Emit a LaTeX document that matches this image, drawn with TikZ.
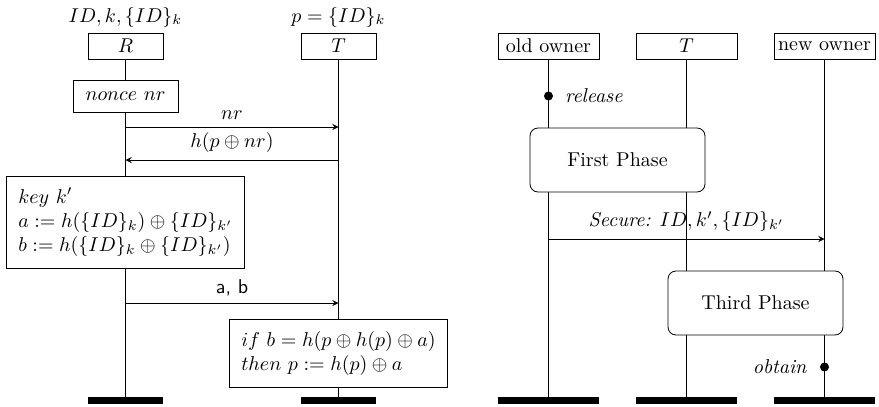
\documentclass[tikz,border=0pt]{standalone}
\usepackage{amsmath}
\usepackage{amssymb}
\usepackage{tikz}
\begin{document}
\begin{tikzpicture}[x=0.5pt,y=-0.5pt]
\tikzstyle{actor}=[draw=black, inner sep=1pt, minimum height=13pt]
\tikzstyle{lifeend}=[fill=black, inner sep=0pt, minimum height=3.5pt]
\tikzstyle{act}=[draw=black, fill=white, inner sep=6pt, align=left]
\tikzstyle{phase}=[draw=black, fill=white, rounded corners=4pt, minimum width=87.5pt, minimum height=32pt]
\tikzstyle{msg}=[->, >=stealth]
\tikzstyle{event}=[circle, fill=black, inner sep=0pt, minimum size=4.5pt]
\useasboundingbox (0,0) rectangle (879,407);
\node [actor, minimum width=37.5pt] (R) at (125.5,46) {$R$};
\node [actor, minimum width=37.5pt] (T) at (338.5,46) {$T$};
\node (Rknow) at (125.5,17) {$ID, k, \{ID\}_k$};
\node (Tknow) at (338.5,17) {$p = \{ID\}_k$};
\node [lifeend, minimum width=37.5pt] (Rend) at (125.5,400.5) {};
\node [lifeend, minimum width=37.5pt] (Tend) at (338.5,400.5) {};
\draw [black] (R) -- (Rend);
\draw [black] (T) -- (Tend);
\node [act, inner sep=0pt, minimum width=52.5pt, minimum height=16pt] (nonce) at (125.5,96) {$nonce~nr$};
\coordinate (nrR) at (125.5,127);
\coordinate (nrT) at (338.5,127);
\draw [msg] (nrR) -- node [above] {$nr$} (nrT);
\coordinate (hT) at (338.5,160);
\coordinate (hR) at (125.5,160);
\draw [msg] (hT) -- node [above] {$h(p \oplus nr)$} (hR);
\node [act] (key) at (125.5,222) {$key~k'$\\ $a := h(\{ID\}_k) \oplus \{ID\}_{k'}$\\ $b := h(\{ID\}_k \oplus \{ID\}_{k'})$};
\coordinate (abR) at (125.5,303);
\coordinate (abT) at (338.5,303);
\draw [msg] (abR) -- node [above] {\textsf{a, b}} (abT);
\node [act] (check) at (338.5,353) {$if~b = h(p \oplus h(p) \oplus a)$\\ $then~p := h(p) \oplus a$};
\node [actor, minimum width=50.5pt] (old) at (548.5,46) {old owner};
\node [actor, minimum width=50.5pt] (T2) at (686.5,46) {$T$};
\node [actor, minimum width=50.5pt] (new) at (824.5,46) {new owner};
\node [lifeend, minimum width=50.5pt] (oldend) at (548.5,400.5) {};
\node [lifeend, minimum width=50.5pt] (T2end) at (686.5,400.5) {};
\node [lifeend, minimum width=50.5pt] (newend) at (824.5,400.5) {};
\draw [black] (old) -- (oldend);
\draw [black] (T2) -- (T2end);
\draw [black] (new) -- (newend);
\node [event] (release) at (548.5,96) {};
\node [anchor=west] (releaselabel) at (558,96) {\textit{release}};
\node [phase] (first) at (617.5,160) {First Phase};
\coordinate (secold) at (548.5,239);
\coordinate (secnew) at (824.5,239);
\draw [msg] (secold) -- node [above] {\textit{Secure:} $ID, k', \{ID\}_{k'}$} (secnew);
\node [phase] (third) at (755.5,303) {Third Phase};
\node [event] (obtain) at (824.5,367) {};
\node [anchor=east] (obtainlabel) at (814,367) {\textit{obtain}};
\end{tikzpicture}
\end{document}
